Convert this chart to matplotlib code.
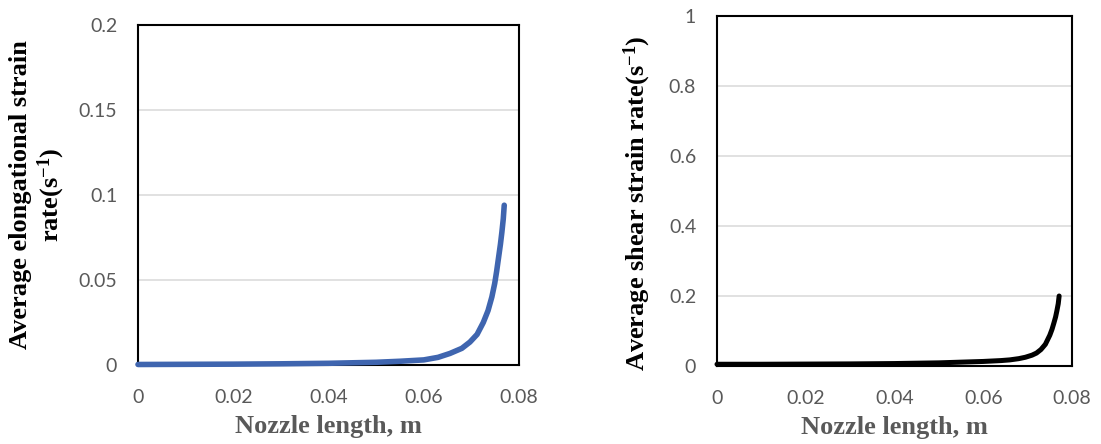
import matplotlib
matplotlib.use("Agg")
import matplotlib.pyplot as plt

# ---- data ----
elong_x = [0, 0.01, 0.02, 0.03, 0.04, 0.05, 0.055, 0.06, 0.063, 0.0655, 0.068,
           0.0697, 0.0712, 0.0725, 0.0735, 0.0743, 0.0749, 0.0753, 0.0757, 0.0761,
           0.0764, 0.0767, 0.0769]
elong_y = [0.0003, 0.0004, 0.0005, 0.0007, 0.001, 0.0016, 0.0022, 0.003, 0.0045,
           0.0068, 0.0098, 0.0135, 0.018, 0.025, 0.032, 0.040, 0.048, 0.055, 0.063,
           0.071, 0.078, 0.086, 0.094]

shear_x = [0, 0.01, 0.02, 0.03, 0.04, 0.05, 0.055, 0.06, 0.064, 0.066, 0.068,
           0.0695, 0.071, 0.072, 0.073, 0.074, 0.075, 0.0755, 0.0759, 0.0763,
           0.0766, 0.0769, 0.0771]
shear_y = [0.005, 0.005, 0.0055, 0.006, 0.007, 0.009, 0.011, 0.013, 0.0155, 0.0175,
           0.021, 0.025, 0.031, 0.037, 0.047, 0.062, 0.088, 0.105, 0.122, 0.14,
           0.158, 0.178, 0.2]

x_ticks = [0, 0.02, 0.04, 0.06, 0.08]
x_ticklabels = ["0", "0.02", "0.04", "0.06", "0.08"]
left_yticks = [0, 0.05, 0.1, 0.15, 0.2]
left_yticklabels = ["0", "0.05", "0.1", "0.15", "0.2"]
right_yticks = [0, 0.2, 0.4, 0.6, 0.8, 1.0]
right_yticklabels = ["0", "0.2", "0.4", "0.6", "0.8", "1"]

xlabel = "Nozzle length, m"
left_ylabel = "Average elongational strain\nrate(s$^{-1}$)"
right_ylabel = "Average shear strain rate(s$^{-1}$)"

plt.rcParams['mathtext.default'] = 'regular'

W, H = 1101, 444
fig = plt.figure(figsize=(W / 100, H / 100), dpi=100)

ax1 = fig.add_axes([138 / W, 1 - 365 / H, 381 / W, 340 / H])
ax2 = fig.add_axes([717 / W, 1 - 366 / H, 355 / W, 350 / H])

tick_font = dict(family="Lato", size=14, color="#595959")
label_font = dict(family="Liberation Serif", weight="bold", size=19)


def style(ax, yticks, yticklabels, ymax):
    ax.set_xlim(0, 0.08)
    ax.set_ylim(0, ymax)
    ax.set_xticks(x_ticks)
    ax.set_xticklabels(x_ticklabels, **tick_font)
    ax.set_yticks(yticks)
    ax.set_yticklabels(yticklabels, **tick_font)
    ax.tick_params(axis="both", length=0)
    ax.tick_params(axis="x", pad=17)
    ax.tick_params(axis="y", pad=15)
    for s in ax.spines.values():
        s.set_linewidth(1.5)
        s.set_color("black")
    ax.yaxis.grid(True, color="#D9D9D9", linewidth=1.1)
    ax.set_axisbelow(True)
    ax.set_xlabel(xlabel, color="#595959", labelpad=7, **label_font)


style(ax1, left_yticks, left_yticklabels, 0.2)
style(ax2, right_yticks, right_yticklabels, 1.0)

ax1.plot(elong_x, elong_y, color="#3F65AF", linewidth=4, solid_capstyle="round",
         solid_joinstyle="round", clip_on=False, zorder=5)
ax2.plot(shear_x, shear_y, color="black", linewidth=3.6, solid_capstyle="round",
         solid_joinstyle="round", clip_on=False, zorder=5)

fig.text(38 / W, 1 - 195 / H, left_ylabel, rotation=90, ha="center", va="center",
         multialignment="center", color="black", **label_font)
fig.text(637 / W, 1 - 203 / H, right_ylabel, rotation=90, ha="center", va="center",
         color="black", **label_font)

fig.savefig("out.png", dpi=100)
